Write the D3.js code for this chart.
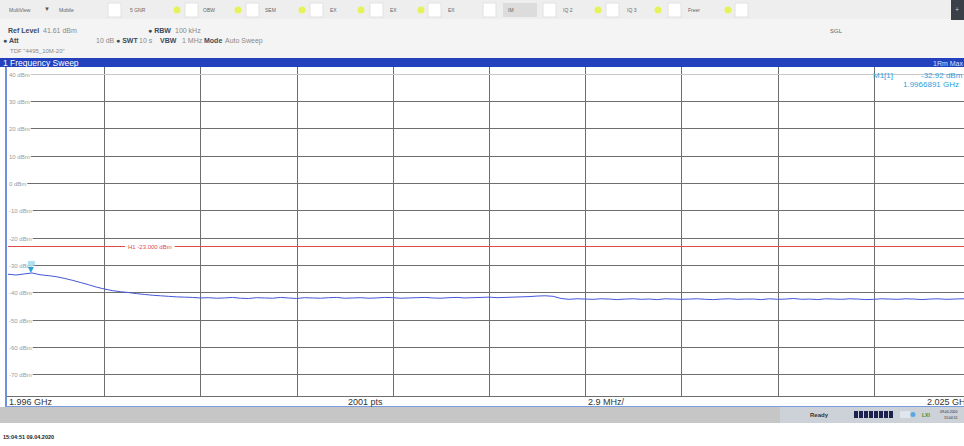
<!DOCTYPE html>
<html lang="en">
<head>
<meta charset="UTF-8" />
<script src="https://d3js.org/d3.v7.min.js"></script>
<style>
  body { margin: 0; background: #ffffff; overflow: hidden; }
  svg { display: block; font-family: "Liberation Sans", Arial, sans-serif; }
</style>
</head>
<body>
<svg width="964" height="446"></svg>
<script>
  // sweep settings
  const fStart = 1.996, fStop = 2.025;      // GHz
  const refLevel = 41.61, range = 120;       // dBm, dB
  const yTicks = [40, 30, 20, 10, 0, -10, -20, -30, -40, -50, -60, -70];
  const xDivs = 10;
  const h1Level = -23;
  const marker = { f: 1.9966891, level: -32.92 };

  // trace (dBm), evenly spaced over the span
  const trace = [
    -33.4, -33.7, -33.3, -32.95, -33.6, -33.9, -34.3, -34.9, -35.6, -36.4,
    -37.2, -38.1, -38.8, -39.4, -39.8, -40.1, -40.5, -40.8, -41.1, -41.3,
    -41.5, -41.7, -41.8, -41.9, -42.1, -42.0, -42.2, -42.1, -41.9, -42.2,
    -42.3, -42.0, -42.1, -42.2, -41.9, -42.1, -42.3, -42.0, -42.1, -42.2,
    -42.0, -41.9, -42.2, -42.1, -42.0, -42.2, -42.1, -41.9, -42.0, -42.2,
    -42.1, -42.0, -41.9, -42.1, -42.2, -42.0, -41.9, -42.1, -42.0, -41.9,
    -41.8, -42.0, -41.9, -41.8, -41.7, -41.6, -41.4, -41.3, -41.5, -42.3,
    -42.6, -42.4, -42.5, -42.6, -42.4, -42.5, -42.7, -42.5, -42.4, -42.6,
    -42.5, -42.7, -42.4, -42.5, -42.6, -42.5, -42.4, -42.6, -42.7, -42.5,
    -42.4, -42.6, -42.5, -42.5, -42.7, -42.4, -42.6, -42.5, -42.3, -42.6,
    -42.5, -42.7, -42.4, -42.5, -42.6, -42.4, -42.5, -42.7, -42.6, -42.4,
    -42.5, -42.6, -42.4, -42.5, -42.7, -42.5, -42.4, -42.6, -42.5, -42.4,
    -42.5
  ];

  // toolbar tabs: label, box x, label x, status dot x
  const tabs = [
    ["5 GNR", 108, 130, 177], ["OBW", 185, 203, 238], ["SEM", 246, 265, 302],
    ["EX", 310, 330, 361], ["EX", 370, 390, 421], ["EX", 428, 448, null],
    ["IM", 483, 508, null], ["IQ 2", 543, 563, 598], ["IQ 3", 606, 627, 658],
    ["Freer", 668, 688, 728]
  ];

  const svg = d3.select("svg");
  const plotLeft = 8, plotRight = 970, plotTop = 69.5, plotBottom = 397;

  const x = d3.scaleLinear().domain([fStart, fStop]).range([plotLeft, plotRight]);
  const y = d3.scaleLinear().domain([refLevel - range, refLevel]).range([plotBottom, plotTop]);

  // backgrounds
  svg.append("rect").attr("width", 964).attr("height", 19).attr("fill", "#eeeeee");
  svg.append("rect").attr("y", 19).attr("width", 964).attr("height", 39).attr("fill", "#f4f4f4");
  svg.append("rect").attr("x", 951).attr("width", 13).attr("height", 20).attr("fill", "#3b4048");
  svg.append("text").attr("x", 957).attr("y", 12).attr("fill", "#ccc").attr("font-size", 7).attr("text-anchor", "middle").text("+");

  // toolbar
  const tb = svg.append("g").attr("font-size", 5).attr("fill", "#666");
  tb.append("text").attr("x", 9).attr("y", 12).text("MultiView");
  tb.append("text").attr("x", 44).attr("y", 11).attr("font-size", 6).attr("fill", "#555").text("▼");
  tb.append("text").attr("x", 59).attr("y", 12).text("Mobile");
  tabs.forEach(([t, bx, lx, dx]) => {
    if (t === "IM") tb.append("rect").attr("x", 503).attr("y", 3).attr("width", 34).attr("height", 14).attr("fill", "#dcdcdc");
    tb.append("rect").attr("x", bx).attr("y", 3).attr("width", 13).attr("height", 14)
      .attr("fill", "#ffffff").attr("stroke", "#e2e2e2");
    tb.append("text").attr("x", lx).attr("y", 12).text(t);
    if (dx !== null) tb.append("circle").attr("cx", dx).attr("cy", 10).attr("r", 3.5).attr("fill", "#e6f25a");
  });
  tb.append("rect").attr("x", 735).attr("y", 3).attr("width", 13).attr("height", 14)
    .attr("fill", "#ffffff").attr("stroke", "#e2e2e2");

  // header info
  const hdr = svg.append("g").attr("font-size", 7);
  hdr.append("text").attr("x", 8).attr("y", 33).attr("fill", "#3d4a5c").attr("font-weight", "bold").text("Ref Level");
  hdr.append("text").attr("x", 43).attr("y", 33).attr("fill", "#8a8a8a").text(refLevel.toFixed(2) + " dBm");
  hdr.append("text").attr("x", 148).attr("y", 33).attr("fill", "#3d4a5c").attr("font-weight", "bold").text("● RBW");
  hdr.append("text").attr("x", 175).attr("y", 33).attr("fill", "#8a8a8a").text("100 kHz");
  hdr.append("text").attr("x", 3).attr("y", 43).attr("fill", "#3d4a5c").attr("font-weight", "bold").text("● Att");
  hdr.append("text").attr("x", 96).attr("y", 43).attr("fill", "#8a8a8a").text("10 dB");
  hdr.append("text").attr("x", 116).attr("y", 43).attr("fill", "#3d4a5c").attr("font-weight", "bold").text("● SWT");
  hdr.append("text").attr("x", 139).attr("y", 43).attr("fill", "#8a8a8a").text("10 s");
  hdr.append("text").attr("x", 160).attr("y", 43).attr("fill", "#3d4a5c").attr("font-weight", "bold").text("VBW");
  hdr.append("text").attr("x", 182).attr("y", 43).attr("fill", "#8a8a8a").text("1 MHz");
  hdr.append("text").attr("x", 204).attr("y", 43).attr("fill", "#3d4a5c").attr("font-weight", "bold").text("Mode");
  hdr.append("text").attr("x", 225).attr("y", 43).attr("fill", "#8a8a8a").text("Auto Sweep");
  hdr.append("text").attr("x", 10).attr("y", 53).attr("font-size", 6).attr("fill", "#8a8a8a").text('TDF "4495_10M-20"');
  hdr.append("text").attr("x", 830).attr("y", 33).attr("font-size", 6).attr("fill", "#666").text("SGL");

  // title bar
  svg.append("rect").attr("x", 0).attr("y", 58).attr("width", 964).attr("height", 9).attr("fill", "#2340bd");
  svg.append("text").attr("x", 3).attr("y", 65.5).attr("font-size", 8.5).attr("fill", "#ffffff").text("1 Frequency Sweep");
  svg.append("text").attr("x", 963).attr("y", 65.5).attr("font-size", 7).attr("text-anchor", "end").attr("fill", "#cfe0ff").text("1Rm Max");

  // plot area
  svg.append("rect").attr("x", 6).attr("y", 67).attr("width", 958).attr("height", plotBottom - 67).attr("fill", "#ffffff");

  // vertical grid
  const xGrid = d3.range(1, xDivs).map(i => fStart + i * (fStop - fStart) / xDivs);
  svg.append("g").selectAll("line").data(xGrid).join("line")
    .attr("x1", d => Math.round(x(d)) + 0.5).attr("x2", d => Math.round(x(d)) + 0.5)
    .attr("y1", 67).attr("y2", plotBottom)
    .attr("stroke", "#6e6e6e").attr("stroke-width", 1);

  // horizontal grid with labels
  const yg = svg.append("g");
  yTicks.forEach(t => {
    const lbl = yg.append("text").attr("x", 9).attr("y", Math.round(y(t)) + 2.5)
      .attr("font-size", 6).attr("fill", "#9a9a9a").text(t + " dBm");
    const w = lbl.node().getComputedTextLength();
    yg.append("line").attr("x1", 9 + w + 1).attr("x2", plotRight)
      .attr("y1", Math.round(y(t)) + 0.5).attr("y2", Math.round(y(t)) + 0.5)
      .attr("stroke", t === 40 ? "#c8c8c8" : "#6e6e6e").attr("stroke-width", 1);
  });

  // bottom grid line
  svg.append("line").attr("x1", 6).attr("x2", 964).attr("y1", plotBottom - 0.5).attr("y2", plotBottom - 0.5)
    .attr("stroke", "#6e6e6e");

  // H1 display line
  const yH1 = Math.round(y(h1Level)) + 0.5;
  svg.append("line").attr("x1", plotLeft).attr("x2", plotRight).attr("y1", yH1).attr("y2", yH1)
    .attr("stroke", "#e24a4a").attr("stroke-width", 1);
  const h1bg = svg.append("rect").attr("fill", "#ffffff");
  const h1 = svg.append("text").attr("x", 128).attr("y", yH1 + 2).attr("font-size", 6)
    .attr("fill", "#e24a4a").text("H1 " + h1Level.toFixed(3) + " dBm");
  const hb = h1.node().getBBox();
  h1bg.attr("x", hb.x - 3).attr("y", hb.y).attr("width", hb.width + 6).attr("height", hb.height);

  // trace
  const line = d3.line()
    .x((d, i) => x(fStart + i * (fStop - fStart) / (trace.length - 1)))
    .y(d => y(d));
  svg.append("path").datum(trace).attr("d", line)
    .attr("fill", "none").attr("stroke", "#4656d8").attr("stroke-width", 1);

  // marker M1
  const mx = x(marker.f), my = y(marker.level);
  svg.append("rect").attr("x", mx - 3).attr("y", my - 12).attr("width", 7).attr("height", 5).attr("fill", "#8fd0ee").attr("opacity", 0.7);
  svg.append("path").attr("d", `M${mx - 3},${my - 6}L${mx + 3},${my - 6}L${mx},${my}Z`).attr("fill", "#2ea0dc");

  // marker table
  const mt = svg.append("g").attr("font-size", 8).attr("fill", "#2ea0dc");
  mt.append("text").attr("x", 873).attr("y", 78).text("M1[1]");
  mt.append("text").attr("x", 921).attr("y", 78).text(marker.level.toFixed(2) + " dBm");
  mt.append("text").attr("x", 903).attr("y", 87).text(marker.f.toFixed(7) + " GHz");

  // left border
  svg.append("line").attr("x1", 6).attr("x2", 6).attr("y1", 67).attr("y2", 407)
    .attr("stroke", "#6f8fe0").attr("stroke-width", 2);

  // footer strip
  svg.append("line").attr("x1", 6).attr("x2", 964).attr("y1", 406.5).attr("y2", 406.5).attr("stroke", "#7a9be0");
  const ft = svg.append("g").attr("font-size", 9).attr("fill", "#333");
  ft.append("text").attr("x", 9).attr("y", 405).text(fStart.toFixed(3) + " GHz");
  ft.append("text").attr("x", 348).attr("y", 405).text("2001 pts");
  ft.append("text").attr("x", 588).attr("y", 405).text(((fStop - fStart) * 1000 / xDivs).toFixed(1) + " MHz/");
  ft.append("text").attr("x", 970).attr("y", 405).attr("text-anchor", "end").text(fStop.toFixed(3) + " GHz");

  // status bar
  svg.append("rect").attr("x", 0).attr("y", 407).attr("width", 964).attr("height", 16).attr("fill", "#c6c6c6");
  svg.append("rect").attr("x", 780).attr("y", 407).attr("width", 184).attr("height", 16).attr("fill", "#cdd2d8");
  svg.append("text").attr("x", 810).attr("y", 417).attr("font-size", 6).attr("font-weight", "bold").attr("fill", "#333").text("Ready");
  svg.append("g").selectAll("rect").data(d3.range(8)).join("rect")
    .attr("x", d => 854 + d * 5).attr("y", 411).attr("width", 4).attr("height", 7).attr("fill", "#1d2150");
  svg.append("rect").attr("x", 900).attr("y", 411).attr("width", 10).attr("height", 7).attr("fill", "#dfe6ee");
  svg.append("circle").attr("cx", 913).attr("cy", 414.5).attr("r", 2.5).attr("fill", "#5aa8e0");
  svg.append("text").attr("x", 922).attr("y", 417).attr("font-size", 5).attr("font-weight", "bold").attr("fill", "#4a8a2a").text("LXI");
  svg.append("text").attr("x", 940).attr("y", 413).attr("font-size", 3.5).attr("fill", "#223").text("09.04.2020");
  svg.append("text").attr("x", 944).attr("y", 419).attr("font-size", 3.5).attr("fill", "#223").text("15:04:51");

  // timestamp
  svg.append("text").attr("x", 3).attr("y", 439).attr("font-size", 5.5).attr("font-weight", "bold").attr("fill", "#222")
    .text("15:04:51 09.04.2020");
</script>
</body>
</html>
